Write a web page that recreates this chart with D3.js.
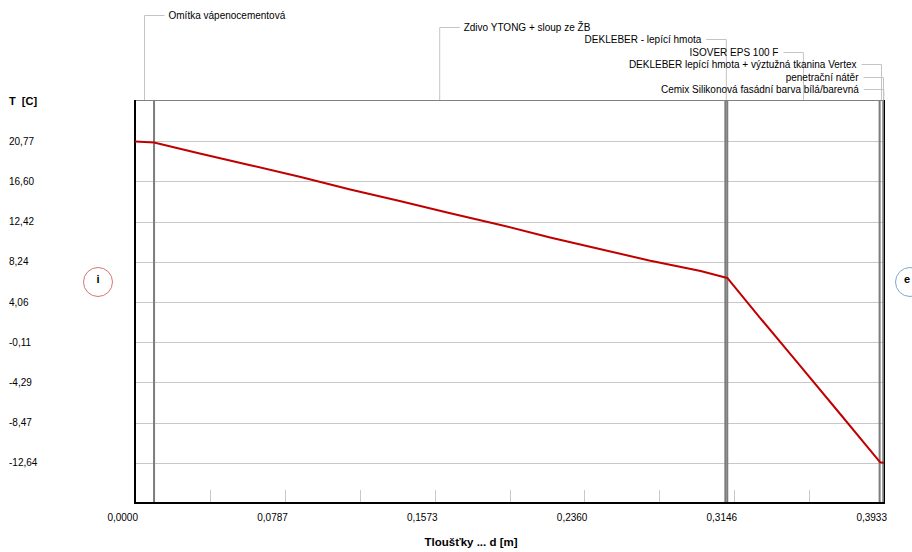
<!DOCTYPE html>
<meta charset="utf-8">
<style>
body { margin: 0; background: #fff; }
text { font-family: "Liberation Sans", Arial, sans-serif; }
</style>
<svg id="mysvg" width="912" height="552"></svg>
<script src="https://cdn.jsdelivr.net/npm/d3@7/dist/d3.min.js"></script>
<script>

// layers (inside -> outside), thickness in m
var layerNames = ["Omítka vápenocementová", "Zdivo YTONG + sloup ze ŽB", "DEKLEBER - lepící hmota",
	"ISOVER EPS 100 F", "DEKLEBER lepící hmota + výztužná tkanina Vertex", "penetrační nátěr",
	"Cemix Silikonová fasádní barva bílá/barevná"];
var layerThick = [0.010, 0.300, 0.001, 0.080, 0.002, 0.0001, 0.0002];

// temperature profile
var profD = [0, 0.010, 0.034, 0.060, 0.087, 0.113, 0.139, 0.165, 0.192, 0.218, 0.244, 0.270, 0.297,
	0.310, 0.311, 0.3283, 0.3493, 0.3703, 0.3913, 0.3930, 0.3933];
var profT = [20.74, 20.63, 19.49, 18.30, 17.05, 15.75, 14.56, 13.31, 12.07, 10.77, 9.57, 8.38, 7.29,
	6.61, 6.56, 2.40, -2.58, -7.57, -12.59, -12.63, -12.64];

var yTicks = [20.77, 16.60, 12.42, 8.24, 4.06, -0.11, -4.29, -8.47, -12.64];
var xTicks = [0, 0.0787, 0.1573, 0.2360, 0.3146, 0.3933];
var xMinor = [0.0393, 0.1180, 0.1967, 0.2753, 0.3540];
var xTickLabels = ["0,0000", "0,0787", "0,1573", "0,2360", "0,3146", "0,3933"];

var svg = d3.select("#mysvg");

var x = d3.scaleLinear().domain([0, 0.3933]).range([135, 884]);
var y = d3.scaleLinear().domain([-16.816, 24.946]).range([503, 101]);

function fmt(v){ return v.toFixed(2).replace(".", ","); }

// grid
svg.selectAll("line.grid").data(yTicks).enter().append("line")
	.attr("class","grid")
	.attr("x1",135).attr("x2",884)
	.attr("y1",function(d){ return Math.round(y(d))+0.5; })
	.attr("y2",function(d){ return Math.round(y(d))+0.5; })
	.attr("stroke","#c8c8c8").attr("stroke-width",1);

// y labels
svg.selectAll("text.ylab").data(yTicks).enter().append("text")
	.attr("class","ylab")
	.attr("x",9).attr("y",function(d){ return y(d); })
	.attr("dy","0.36em")
	.attr("font-size","10px").attr("fill","#000")
	.text(fmt);

svg.append("text").attr("x",9).attr("y",105).attr("font-size","11px")
	.attr("font-weight","bold").text("T\u00a0\u00a0[C]");

// x ticks
svg.selectAll("line.xt").data(xMinor.concat(xTicks.slice(1,5))).enter().append("line")
	.attr("class","xt")
	.attr("x1",function(d){ return Math.round(x(d))+0.5; })
	.attr("x2",function(d){ return Math.round(x(d))+0.5; })
	.attr("y1",490).attr("y2",502)
	.attr("stroke","#c8c8c8");

svg.selectAll("text.xlab").data(xTicks).enter().append("text")
	.attr("class","xlab")
	.attr("x",function(d){ return x(d)+3; }).attr("y",521)
	.attr("text-anchor","end").attr("font-size","10px")
	.text(function(d,i){ return xTickLabels[i]; });

svg.append("text").attr("x",471).attr("y",546).attr("text-anchor","middle")
	.attr("font-size","11.5px").attr("font-weight","bold").text("Tloušťky ... d [m]");

// layer boundaries
var bounds = [0], acc = 0;
layerThick.forEach(function(t){ acc += t; bounds.push(acc); });

svg.selectAll("line.layer").data(bounds.slice(1, bounds.length-1)).enter().append("line")
	.attr("class","layer")
	.attr("x1",function(d){ return x(d); }).attr("x2",function(d){ return x(d); })
	.attr("y1",101).attr("y2",503)
	.attr("stroke","#7c7c7c").attr("stroke-width",2);

// leader labels
var centers = layerThick.map(function(t,i){ return x(bounds[i] + t/2); });
var g = svg.append("g");
layerNames.forEach(function(name, i){
	var cx = centers[i];
	var ly = Math.round(14.5 + i*12.4) + 0.5;
	var left = cx < 600;
	g.append("line").attr("x1",cx).attr("x2",cx).attr("y1",ly).attr("y2",100)
		.attr("stroke","#c4c4c4");
	if (left) {
		g.append("line").attr("x1",cx).attr("x2",cx+20).attr("y1",ly).attr("y2",ly).attr("stroke","#c4c4c4");
		g.append("text").attr("x",cx+24).attr("y",ly).attr("dy","0.36em")
			.attr("font-size","10px").text(name);
	} else {
		var te = Math.min(cx - 25, 859);
		g.append("line").attr("x1",te+5).attr("x2",cx).attr("y1",ly).attr("y2",ly).attr("stroke","#c4c4c4");
		g.append("text").attr("x",te).attr("y",ly).attr("dy","0.36em")
			.attr("text-anchor","end").attr("font-size","10px").text(name);
	}
});

// frame
svg.append("line").attr("x1",135).attr("x2",884).attr("y1",100.5).attr("y2",100.5).attr("stroke","#808080");
svg.append("line").attr("x1",135).attr("x2",135).attr("y1",100).attr("y2",504).attr("stroke","#000").attr("stroke-width",2);
svg.append("line").attr("x1",134).attr("x2",885).attr("y1",503).attr("y2",503).attr("stroke","#000").attr("stroke-width",2);
svg.append("line").attr("x1",884.5).attr("x2",884.5).attr("y1",100).attr("y2",504).attr("stroke","#000").attr("stroke-width",1);

// temperature curve
var line = d3.line().x(function(d){ return x(d[0]); }).y(function(d){ return y(d[1]); });
svg.append("path").datum(d3.zip(profD, profT))
	.attr("d", line).attr("fill","none")
	.attr("stroke","#c00000").attr("stroke-width",2);

// i / e markers
svg.append("circle").attr("cx",98).attr("cy",282).attr("r",14.5)
	.attr("fill","none").attr("stroke","#d87474");
svg.append("text").attr("x",98).attr("y",282).attr("dy","0.1em").attr("text-anchor","middle")
	.attr("font-size","11px").attr("font-weight","bold").text("i");
svg.append("circle").attr("cx",910).attr("cy",282).attr("r",14.5)
	.attr("fill","none").attr("stroke","#7fa8cf");
svg.append("text").attr("x",907).attr("y",282).attr("dy","0.1em").attr("text-anchor","middle")
	.attr("font-size","11px").attr("font-weight","bold").text("e");

</script>
